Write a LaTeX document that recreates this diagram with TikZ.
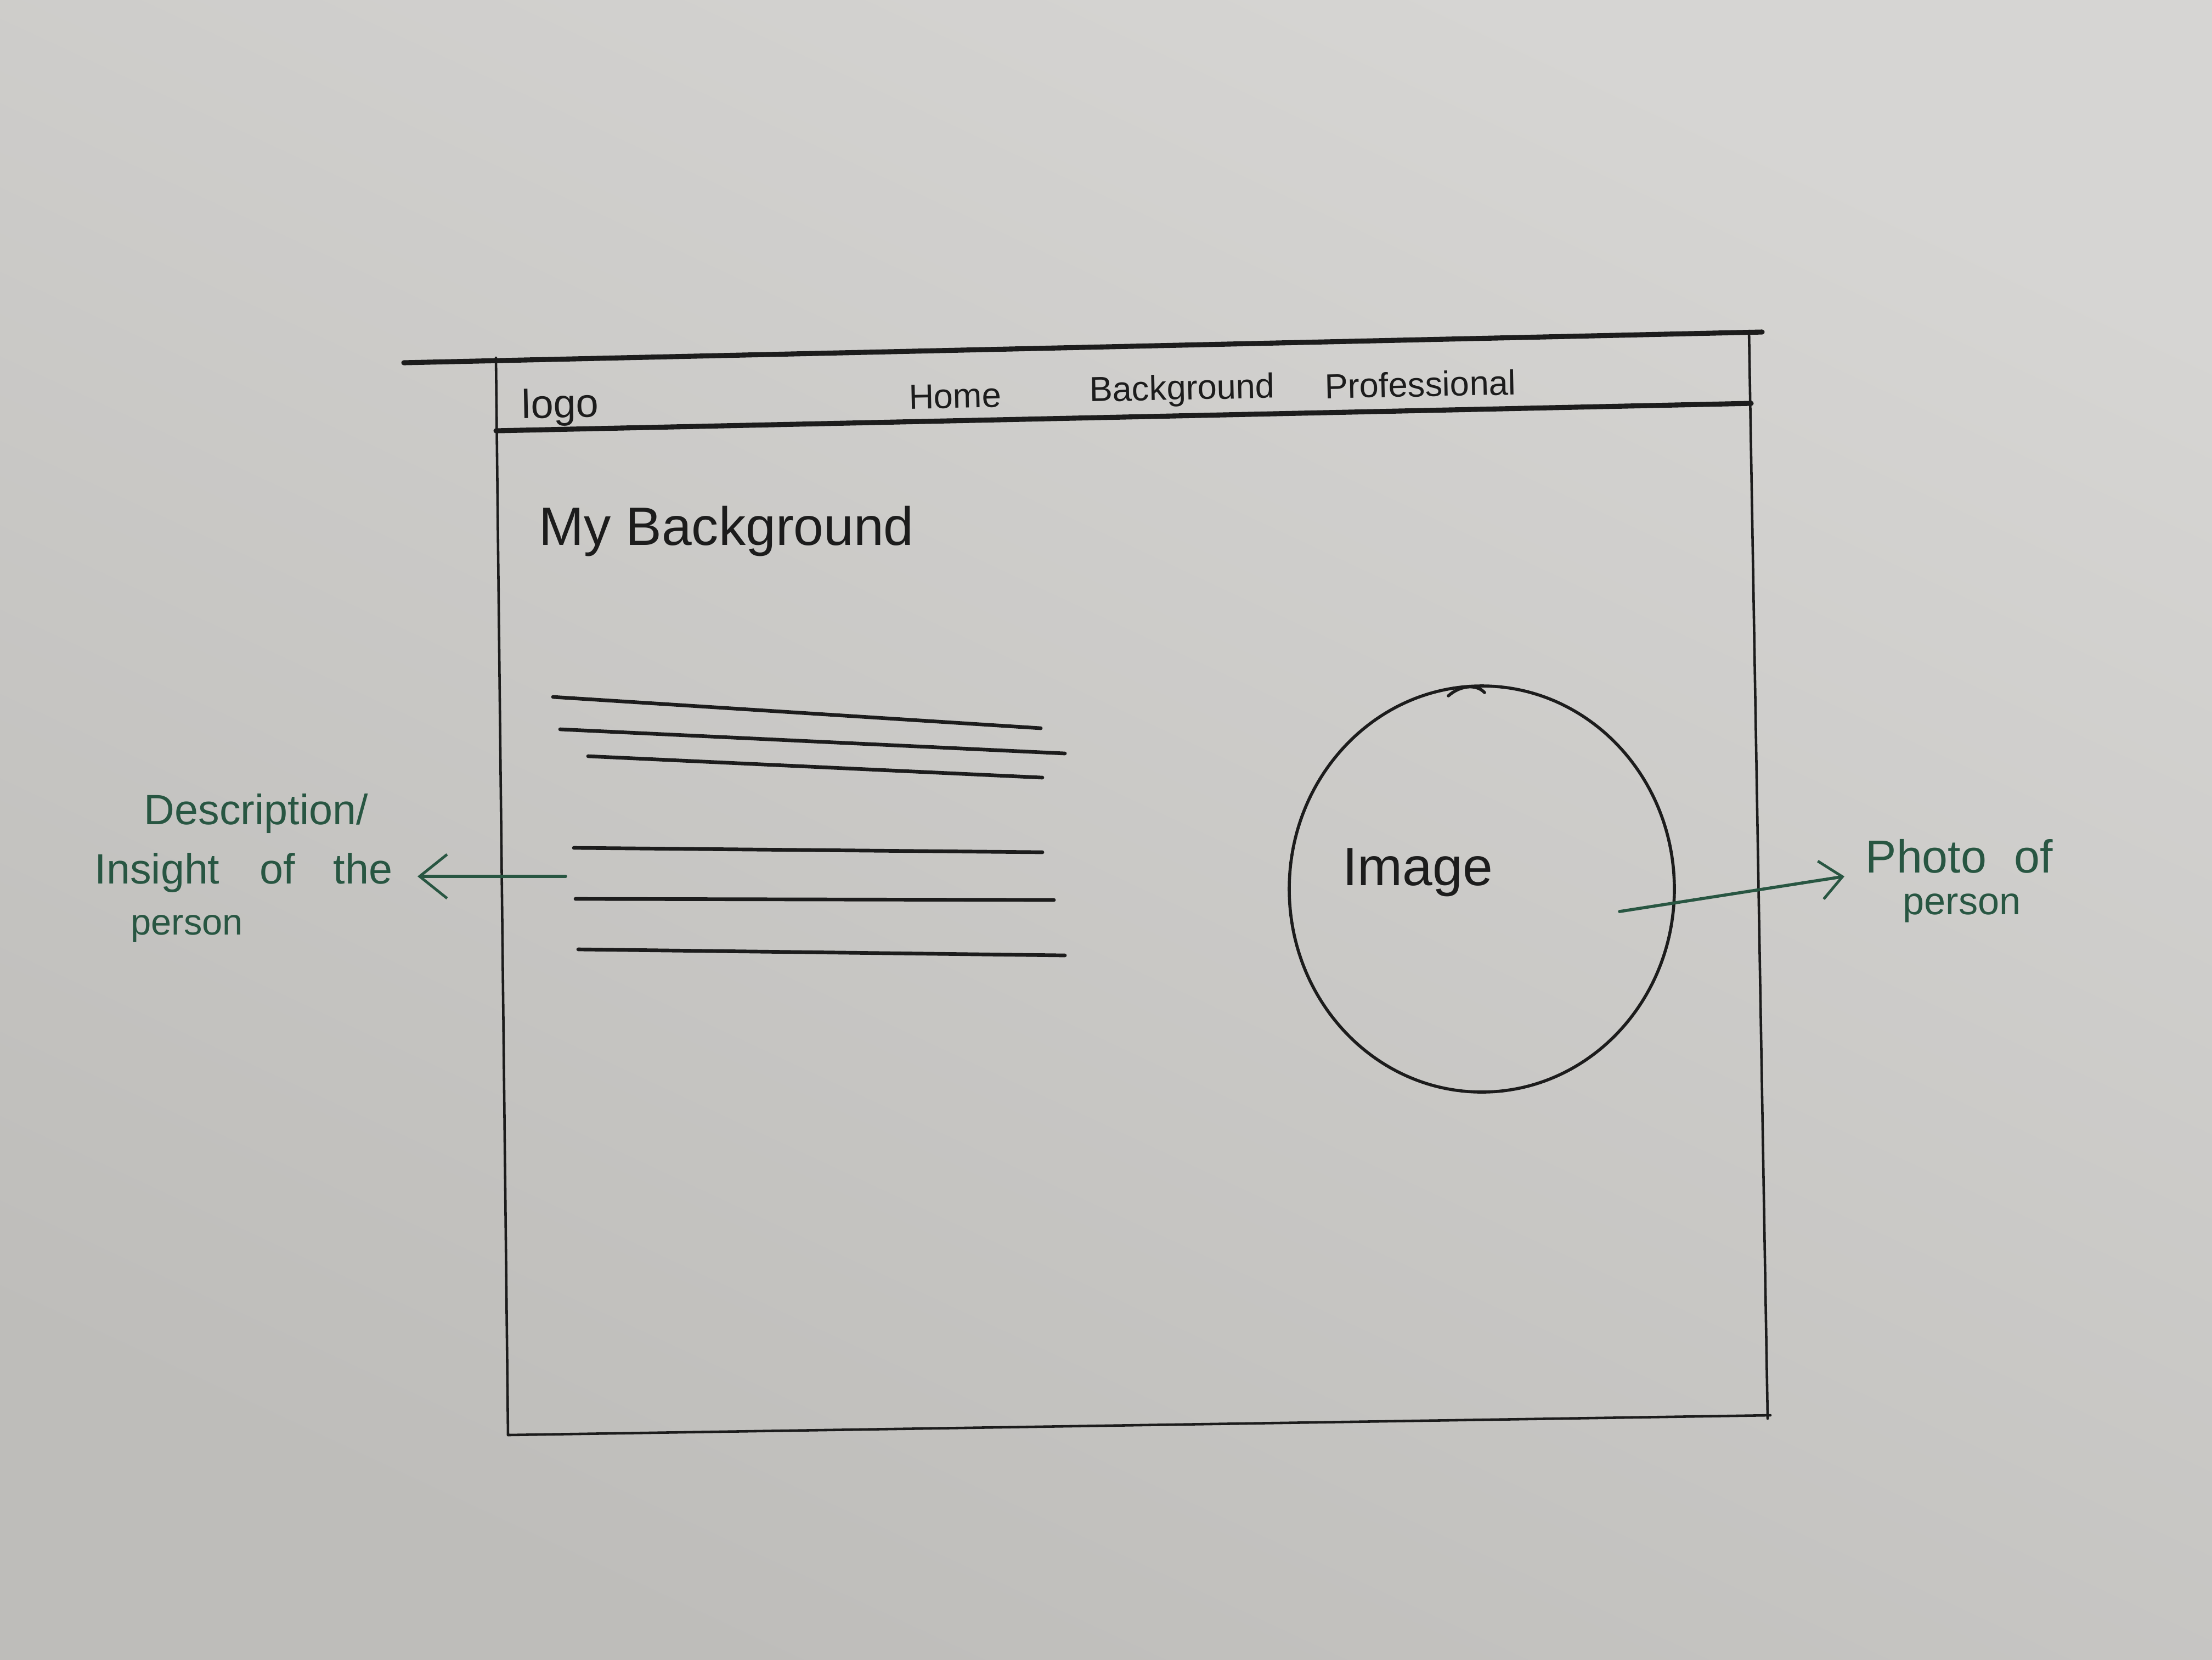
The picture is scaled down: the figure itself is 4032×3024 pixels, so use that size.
\documentclass[tikz,border=0pt]{standalone}
\usepackage{fontspec}
\setmainfont{Liberation Sans}
\usetikzlibrary{arrows.meta,shapes.geometric}
\definecolor{paperlight}{RGB}{214,213,211}
\definecolor{paperdark}{RGB}{190,189,186}
\definecolor{ink}{RGB}{28,28,28}
\definecolor{greenink}{RGB}{40,86,66}
\tikzset{
  pen/.style={draw=ink, line cap=round, line join=round},
  navrule/.style={pen, line width=2.6pt},
  frame/.style={pen, line width=1.3pt},
  textline/.style={pen, line width=1.9pt},
  label/.style={inner sep=0pt, text=ink, anchor=center},
  navitem/.style={label, font=\fontsize{18}{20}\selectfont, rotate=1.2},
  note/.style={inner sep=0pt, text=greenink, font=\fontsize{22}{24}\selectfont},
  pointer/.style={draw=greenink, line width=1.6pt, line cap=round,
    -{Straight Barb[length=5mm,width=8mm,line width=1.4pt]}}
}
\begin{document}
\begin{tikzpicture}[x=0.1mm,y=-0.1mm]
  \useasboundingbox (0,0) rectangle (4032,3024);
  % sheet of paper
  \shade[top color=paperlight, bottom color=paperdark, shading angle=-25]
    (0,0) rectangle (4032,3024);

  % page frame and navigation bar
  \draw[navrule] (736,661) -- (3212,605);
  \draw[navrule] (904,785) -- (3192,735);
  \draw[frame] (904,652) -- (926,2615);
  \draw[frame] (3188,603) -- (3222,2585);
  \draw[frame] (926,2615) -- (3227,2579);

  % navigation entries
  \node[label, font=\fontsize{21}{23}\selectfont, rotate=1.2] (logo) at (1021,742) {logo};
  \node[navitem] (home) at (1741,722) {Home};
  \node[navitem] (navbg) at (2155,712) {Background};
  \node[navitem] (navpro) at (2589,700) {Professional};

  % page heading
  \node[label, font=\fontsize{28}{30}\selectfont] (heading) at (1324,968) {My Background};

  % placeholder lines of body text
  \draw[textline] (1008,1270) -- (1897,1327);
  \draw[textline] (1021,1329) -- (1941,1373);
  \draw[textline] (1072,1378) -- (1900,1417);
  \draw[textline] (1046,1545) -- (1900,1553);
  \draw[textline] (1049,1638) -- (1921,1640);
  \draw[textline] (1054,1730) -- (1941,1741);

  % round photo placeholder
  \node[ellipse, draw=ink, line width=1.6pt, minimum width=70.2mm,
        minimum height=74mm, inner sep=0pt] (photo) at (2701,1620) {};
  \draw[pen, line width=1.6pt] (2640,1268) .. controls (2660,1250) and (2690,1245) .. (2706,1262);
  \node[label, font=\fontsize{28}{30}\selectfont] (img) at (2584,1590) {Image};

  % annotations
  \node[note, anchor=west] (desc1) at (262,1482) {Description/};
  \node[note, anchor=west] (desc2) at (172,1590) {Insight\hspace{0.95em}of\hspace{0.9em}the};
  \node[note, anchor=west, font=\fontsize{19}{21}\selectfont] (desc3) at (238,1692) {person};
  \coordinate (descfrom) at (1031,1597);
  \coordinate (descto) at (761,1597);
  \draw[pointer] (descfrom) -- (descto);

  \coordinate (photofrom) at (2952,1661);
  \coordinate (phototo) at (3362,1597);
  \draw[pointer, -{Straight Barb[length=4mm,width=7mm,line width=1.4pt]}] (photofrom) -- (phototo);
  \node[note, anchor=west, font=\fontsize{24}{26}\selectfont] (ph1) at (3400,1560) {Photo\hspace{0.6em}of};
  \node[note, anchor=west, font=\fontsize{20}{22}\selectfont] (ph2) at (3468,1655) {person};
\end{tikzpicture}
\end{document}
